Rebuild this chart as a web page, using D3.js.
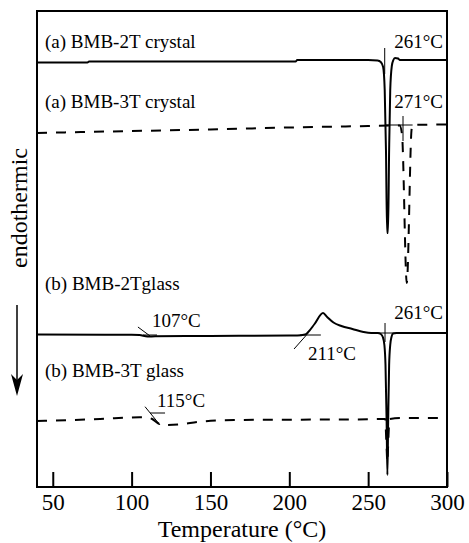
<!DOCTYPE html>
<html>
<head>
<meta charset="utf-8">
<script src="https://cdn.jsdelivr.net/npm/d3@7"></script>
<style>
    body { margin: 0; background: #fff; }
    svg { display: block; font-family: "Liberation Serif", "DejaVu Serif", serif; }
    .frame { fill: none; stroke: #000; stroke-width: 2; }
    .curve { fill: none; stroke: #000; stroke-width: 2; stroke-linejoin: round; }
    .dashed { stroke-dasharray: 10,9; }
    .mark { fill: none; stroke: #000; stroke-width: 1; }
    .axis path { display: none; }
    .axis line { stroke: #000; stroke-width: 2; }
    .axis text { font-family: "Liberation Serif", serif; font-size: 23px; fill: #000; }
</style>
</head>
<body>
<script>
//wrap everything in a self-executing anonymous function
(function(){

//temperature (°C) and heat flow (arbitrary units) for each DSC trace
var crystal2T_T = [40, 72, 73, 204, 205, 250, 256, 258, 259.5, 260.5, 261.3, 262, 262.6, 263.3, 264, 265, 266, 267, 269, 270, 300];
var crystal2T_Q = [42.45, 42.45, 42.55, 42.55, 42.7, 42.7, 42.65, 42.5, 42.0, 39.7, 33.7, 25.4, 25.4, 33.7, 39.7, 42.1, 42.7, 42.9, 42.85, 42.7, 42.7];

var crystal3T_T = [40, 100, 150, 200, 250, 270, 271.5, 274.5, 277.5, 278, 300];
var crystal3T_Q = [35.4, 35.6, 35.75, 35.95, 36.1, 36.15, 35.2, 20.4, 35.7, 36.2, 36.25];

var glass2T_T = [40, 100, 105, 110, 115, 150, 200, 205, 210, 212, 216, 221.4, 224, 228, 233, 240, 247, 252, 256, 258, 259.3, 260.3, 261, 261.7, 262.2, 262.7, 263.3, 264, 264.8, 265.8, 268, 300];
var glass2T_Q = [15.25, 15.22, 15.2, 15.05, 15.07, 15.1, 15.15, 15.15, 15.25, 15.5, 16.3, 17.4, 17.0, 16.45, 16.1, 15.8, 15.5, 15.4, 15.4, 15.3, 15.0, 14.2, 12.2, 6.7, 1.2, 6.7, 12.2, 14.2, 15.0, 15.35, 15.4, 15.4];

var glass3T_T = [40, 80, 105, 110, 113, 117, 121, 130, 143, 165, 250, 259, 260.8, 261.5, 262.2, 262.8, 263.5, 270, 300];
var glass3T_Q = [6.6, 6.8, 6.97, 6.95, 6.8, 6.35, 6.2, 6.25, 6.53, 6.7, 6.77, 6.8, 6.8, 4.7, 2.5, 4.7, 6.8, 6.9, 6.9];

//onset / Tg construction lines, as [T, Q] end points
var onsetMarks = [
    [[260.5, 43.9], [260.5, 41.3]],
    [[260.7, 36.2], [278.2, 36.2]],
    [[272.1, 37.1], [272.1, 34.6]],
    [[104, 16.0], [111.7, 15.1]],
    [[107.2, 15.2], [116.1, 15.2]],
    [[108.5, 8.03], [118, 6.2]],
    [[111.7, 7.4], [121.2, 7.4]],
    [[203, 13.8], [212, 15.4]],
    [[206.7, 15.2], [220, 15.2]],
    [[260.7, 16.4], [260.7, 14.5]],
    [[256.2, 15.4], [268.3, 15.4]]
];

//labels inside the plot
var labelText = ["(a) BMB-2T crystal", "261°C", "(a) BMB-3T crystal", "271°C", "(b) BMB-2Tglass", "107°C", "261°C", "211°C", "(b) BMB-3T glass", "115°C"];
var labelT = [45.1, 297.5, 45.1, 297.5, 45.1, 112.9, 297.5, 211.8, 45.1, 116.1];
var labelQ = [43.9, 43.9, 37.9, 37.9, 19.7, 16.0, 16.8, 12.7, 11.0, 8.0];
var labelAnchor = ["start", "end", "start", "end", "start", "start", "end", "start", "start", "start"];

var xTicks = [50, 100, 150, 200, 250, 300];

window.onload = setChart();

function setChart(){
    //frame dimensions
    var width = 469,
        height = 543,
        left = 37,
        right = 447,
        top = 11,
        bottom = 487;

    var svg = d3.select("body")
        .append("svg")
        .attr("width", width)
        .attr("height", height);

    var x = d3.scaleLinear()
        .domain([40, 300])
        .range([left, right]);

    //heat flow has no scale on the original, arbitrary units
    var y = d3.scaleLinear()
        .domain([0, 47.6])
        .range([bottom, top]);

    var line = d3.line()
        .x(function(d){ return x(d[0]); })
        .y(function(d){ return y(d[1]); })
        .curve(d3.curveMonotoneX);

    //plot the four traces (dashed ones first so the solid spikes sit on top)
    var traces = [
        {t: glass3T_T, q: glass3T_Q, dashed: true},
        {t: crystal3T_T, q: crystal3T_Q, dashed: true},
        {t: crystal2T_T, q: crystal2T_Q, dashed: false},
        {t: glass2T_T, q: glass2T_Q, dashed: false}
    ];

    traces.forEach(function(tr){
        var pts = tr.t.map(function(d, i){ return [d, tr.q[i]]; });
        svg.append("path")
            .datum(pts)
            .attr("class", tr.dashed ? "curve dashed" : "curve")
            .attr("stroke-width", tr.dashed ? 2 : 2)
            .attr("d", line);
    });

    //construction lines
    var straight = d3.line()
        .x(function(d){ return x(d[0]); })
        .y(function(d){ return y(d[1]); });

    svg.selectAll(".mark")
        .data(onsetMarks)
        .enter()
        .append("path")
        .attr("class", "mark")
        .attr("d", straight);

    //labels
    svg.selectAll(".lbl")
        .data(labelText)
        .enter()
        .append("text")
        .attr("class", "lbl")
        .attr("x", function(d, i){ return x(labelT[i]); })
        .attr("y", function(d, i){ return y(labelQ[i]); })
        .attr("text-anchor", function(d, i){ return labelAnchor[i]; })
        .style("font-size", "19px")
        .text(function(d){ return d; });

    //bottom axis with inward ticks
    var xAxis = d3.axisBottom(x)
        .tickValues(xTicks)
        .tickSize(-15)
        .tickSizeOuter(0)
        .tickFormat(d3.format("d"));

    var axis = svg.append("g")
        .attr("class", "axis")
        .attr("transform", "translate(0," + bottom + ")")
        .call(xAxis);

    axis.selectAll("text")
        .attr("y", 23)
        .attr("dy", 0);

    //frame
    svg.append("rect")
        .attr("class", "frame")
        .attr("x", left)
        .attr("y", top)
        .attr("width", right - left)
        .attr("height", bottom - top);

    //axis titles
    svg.append("text")
        .attr("x", (left + right) / 2)
        .attr("y", 537)
        .attr("text-anchor", "middle")
        .style("font-size", "24px")
        .text("Temperature (°C)");

    svg.append("text")
        .attr("transform", "translate(27,208) rotate(-90)")
        .attr("text-anchor", "middle")
        .style("font-size", "24px")
        .text("endothermic");

    //endothermic direction arrow
    svg.append("line")
        .attr("x1", 17).attr("x2", 17)
        .attr("y1", 305).attr("y2", 382)
        .attr("stroke", "#000")
        .attr("stroke-width", 1.5);

    svg.append("path")
        .attr("d", "M11,374 L17,396 L23,374 L17,380 Z")
        .attr("fill", "#000");
};

})();
</script>
</body>
</html>
